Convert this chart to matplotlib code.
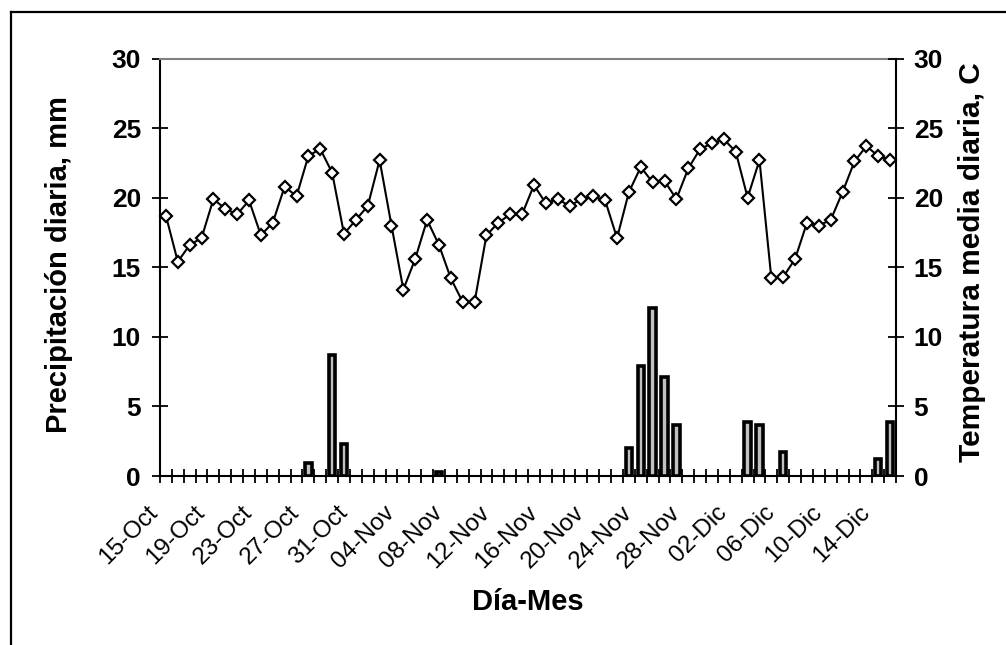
import matplotlib
matplotlib.use('Agg')
import matplotlib.pyplot as plt
import numpy as np
from matplotlib.lines import Line2D
from matplotlib.transforms import ScaledTranslation

# ---- data ----
temperatura = [18.7, 15.4, 16.6, 17.1, 19.9, 19.2, 18.8, 19.8, 17.3, 18.2,
               20.8, 20.1, 23.0, 23.5, 21.8, 17.4, 18.4, 19.4, 22.7, 18.0,
               13.4, 15.6, 18.4, 16.6, 14.2, 12.5, 12.5, 17.3, 18.2, 18.8,
               18.8, 20.9, 19.6, 19.9, 19.4, 19.9, 20.1, 19.8, 17.1, 20.4,
               22.2, 21.1, 21.2, 19.9, 22.1, 23.5, 23.9, 24.2, 23.3, 20.0,
               22.7, 14.2, 14.3, 15.6, 18.2, 18.0, 18.4, 20.4, 22.6, 23.7,
               23.0, 22.7]
precipitacion = [0, 0, 0, 0, 0, 0, 0, 0, 0, 0,
                 0, 0, 0.9, 0, 8.7, 2.3, 0, 0, 0, 0,
                 0, 0, 0, 0.3, 0, 0, 0, 0, 0, 0,
                 0, 0, 0, 0, 0, 0, 0, 0, 0, 2.0,
                 7.9, 12.1, 7.1, 3.7, 0, 0, 0, 0, 0, 3.9,
                 3.7, 0, 1.7, 0, 0, 0, 0, 0, 0, 0,
                 1.2, 3.9]
etiquetas_x = ['15-Oct', '19-Oct', '23-Oct', '27-Oct', '31-Oct', '04-Nov',
               '08-Nov', '12-Nov', '16-Nov', '20-Nov', '24-Nov', '28-Nov',
               '02-Dic', '06-Dic', '10-Dic', '14-Dic']
paso_etiqueta = 4
y_ticks = [0, 5, 10, 15, 20, 25, 30]

W, H = 1006, 645
fig = plt.figure(figsize=(W / 100, H / 100), dpi=100)
plt.rcParams['font.family'] = ['Liberation Sans', 'DejaVu Sans']

L, R, T, B = 160, 896, 58.5, 476
ax = fig.add_axes([L / W, 1 - B / H, (R - L) / W, (B - T) / H])
n = len(temperatura)
x = np.arange(n)
p = np.array(precipitacion, dtype=float)
mask = p > 0
ax.bar(x[mask], p[mask], width=0.55, color='#c0c0c0', edgecolor='black',
       linewidth=2.6, zorder=2)
ax.set_xlim(-0.5, n - 0.5)
ax.set_ylim(0, 30)

ax2 = ax.twinx()
ax2.set_ylim(0, 30)
ax2.plot(x, temperatura, color='black', lw=1.5, marker='D', ms=6.6,
         mfc='white', mec='black', mew=1.6, clip_on=False, zorder=3)

# spines
for s in ['left', 'bottom']:
    ax.spines[s].set_linewidth(1.5)
    ax.spines[s].set_color('black')
ax.spines['right'].set_visible(False)
ax.spines['top'].set_color('#808080')
ax.spines['top'].set_linewidth(1.5)
for s in ['left', 'bottom', 'top']:
    ax2.spines[s].set_visible(False)
ax2.spines['right'].set_linewidth(1.5)
ax2.spines['right'].set_color('black')

# ticks
ax.set_yticks(y_ticks, [str(v) for v in y_ticks], fontsize=19, fontweight='bold')
ax2.set_yticks(y_ticks, [str(v) for v in y_ticks], fontsize=19, fontweight='bold')
ax.tick_params(axis='y', direction='inout', length=11.5, width=1.3, pad=8)
ax2.tick_params(axis='y', direction='inout', length=11.5, width=1.3, pad=7)

pos_lab = x[::paso_etiqueta]
ax.set_xticks(pos_lab)
ax.set_xticks(np.arange(n + 1) - 0.5, minor=True)
ax.tick_params(axis='x', which='major', length=0, pad=21)
ax.tick_params(axis='x', which='minor', direction='inout', length=9.6, width=1.3)
ax.set_xticklabels(etiquetas_x, rotation=45, ha='right', va='center',
                   rotation_mode='anchor', fontsize=17.5)
off = ScaledTranslation(-12 / 100, -4 / 100, fig.dpi_scale_trans)
for lab in ax.get_xticklabels():
    lab.set_transform(lab.get_transform() + off)

# axis titles
fig.text(59 / W, 1 - 265 / H, 'Precipitación diaria, mm', rotation=90,
         ha='center', va='center', fontsize=21, fontweight='bold')
fig.text(972 / W, 1 - 262 / H, 'Temperatura media diaria, C', rotation=90,
         ha='center', va='center', fontsize=21.5, fontweight='bold')
fig.text(527.5 / W, 1 - 602 / H, 'Día-Mes', ha='center', va='center',
         fontsize=21, fontweight='bold')

# outer frame (partially outside image)
x0, y0 = 10.5 / W, 1 - 12 / H
fig.add_artist(Line2D([x0, 1.01], [y0, y0], transform=fig.transFigure,
                      color='black', lw=1.6))
fig.add_artist(Line2D([x0, x0], [y0, -0.01], transform=fig.transFigure,
                      color='black', lw=1.6))

fig.savefig('out.png', dpi=100)
